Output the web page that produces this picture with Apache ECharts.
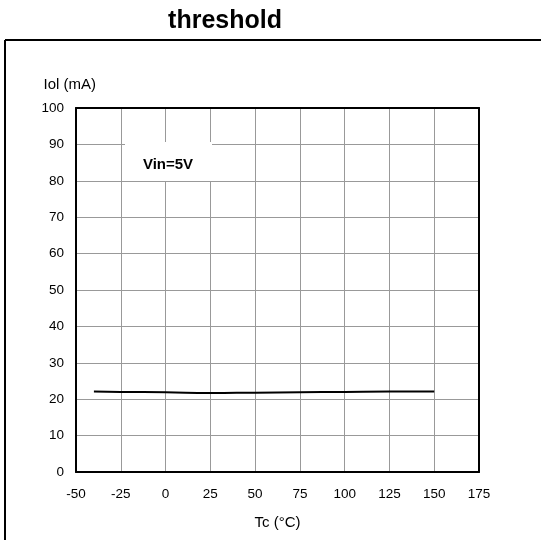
<!DOCTYPE html>
<html>
<head>
<meta charset="utf-8">
<script src="https://cdn.jsdelivr.net/npm/echarts@6/dist/echarts.min.js"></script>
<style>html,body{margin:0;padding:0;background:#fff}#c{width:541px;height:540px}</style>
</head>
<body>
<div id="c"></div>
<script>
var tempC = [-40, -25, 0, 25, 50, 75, 100, 125, 150];
var iolMA = [22.1, 22.0, 21.9, 21.7, 21.8, 21.9, 22.0, 22.1, 22.1];
var xTicks = [-50, -25, 0, 25, 50, 75, 100, 125, 150, 175];
var yTicks = [0, 10, 20, 30, 40, 50, 60, 70, 80, 90, 100];
var titleText = 'threshold';
var annotation = 'Vin=5V';

var font = 'Liberation Sans, Arial, sans-serif';
var chart = echarts.init(document.getElementById('c'), null, {renderer: 'canvas'});
chart.setOption({
  animation: false,
  backgroundColor: '#fff',
  title: {text: titleText, left: 220, top: 4, textAlign: 'center',
    textStyle: {fontFamily: font, fontSize: 25, fontWeight: 'bold', color: '#000'}},
  grid: {left: 76, right: 62, top: 108, bottom: 68},
  xAxis: [{
    type: 'value', min: xTicks[0], max: xTicks[xTicks.length - 1], interval: 25,
    name: 'Tc (°C)', nameLocation: 'middle', nameGap: 43,
    nameTextStyle: {fontFamily: font, fontSize: 15, color: '#000'},
    axisLine: {show: true, onZero: false, lineStyle: {color: '#000', width: 2}},
    axisTick: {show: false},
    axisLabel: {fontFamily: font, fontSize: 13.5, color: '#000', margin: 15},
    splitLine: {show: true, lineStyle: {color: '#999', width: 1}}
  }, {
    type: 'value', position: 'top', min: xTicks[0], max: xTicks[xTicks.length - 1],
    axisLine: {show: true, onZero: false, lineStyle: {color: '#000', width: 2}},
    axisTick: {show: false}, axisLabel: {show: false}, splitLine: {show: false}
  }],
  yAxis: [{
    type: 'value', min: yTicks[0], max: yTicks[yTicks.length - 1], interval: 10,
    name: 'Iol (mA)', nameLocation: 'end', nameGap: 16,
    nameTextStyle: {fontFamily: font, fontSize: 15, color: '#000', align: 'right', padding: [0, -20, 0, 0]},
    axisLine: {show: true, onZero: false, lineStyle: {color: '#000', width: 2}},
    axisTick: {show: false},
    axisLabel: {fontFamily: font, fontSize: 13.5, color: '#000', margin: 12},
    splitLine: {show: true, lineStyle: {color: '#999', width: 1}}
  }, {
    type: 'value', position: 'right', min: yTicks[0], max: yTicks[yTicks.length - 1],
    axisLine: {show: true, onZero: false, lineStyle: {color: '#000', width: 2}},
    axisTick: {show: false}, axisLabel: {show: false}, splitLine: {show: false}
  }],
  series: [{
    type: 'line', xAxisIndex: 0, yAxisIndex: 0,
    data: tempC.map(function (t, i) { return [t, iolMA[i]]; }),
    showSymbol: false, smooth: true,
    lineStyle: {color: '#000', width: 2}
  }],
  graphic: [
    {type: 'line', shape: {x1: 5, y1: 40, x2: 541, y2: 40}, style: {stroke: '#000', lineWidth: 2}},
    {type: 'line', shape: {x1: 5, y1: 40, x2: 5, y2: 540}, style: {stroke: '#000', lineWidth: 2}},
    {type: 'rect', shape: {x: 125, y: 142, width: 87, height: 39}, style: {fill: '#fff'}, z: 10},
    {type: 'text', x: 168, y: 165, z: 11,
      style: {text: annotation, fontFamily: font, fontSize: 15, fontWeight: 'bold', fill: '#000', align: 'center', verticalAlign: 'middle'}}
  ]
});
</script>
</body>
</html>
